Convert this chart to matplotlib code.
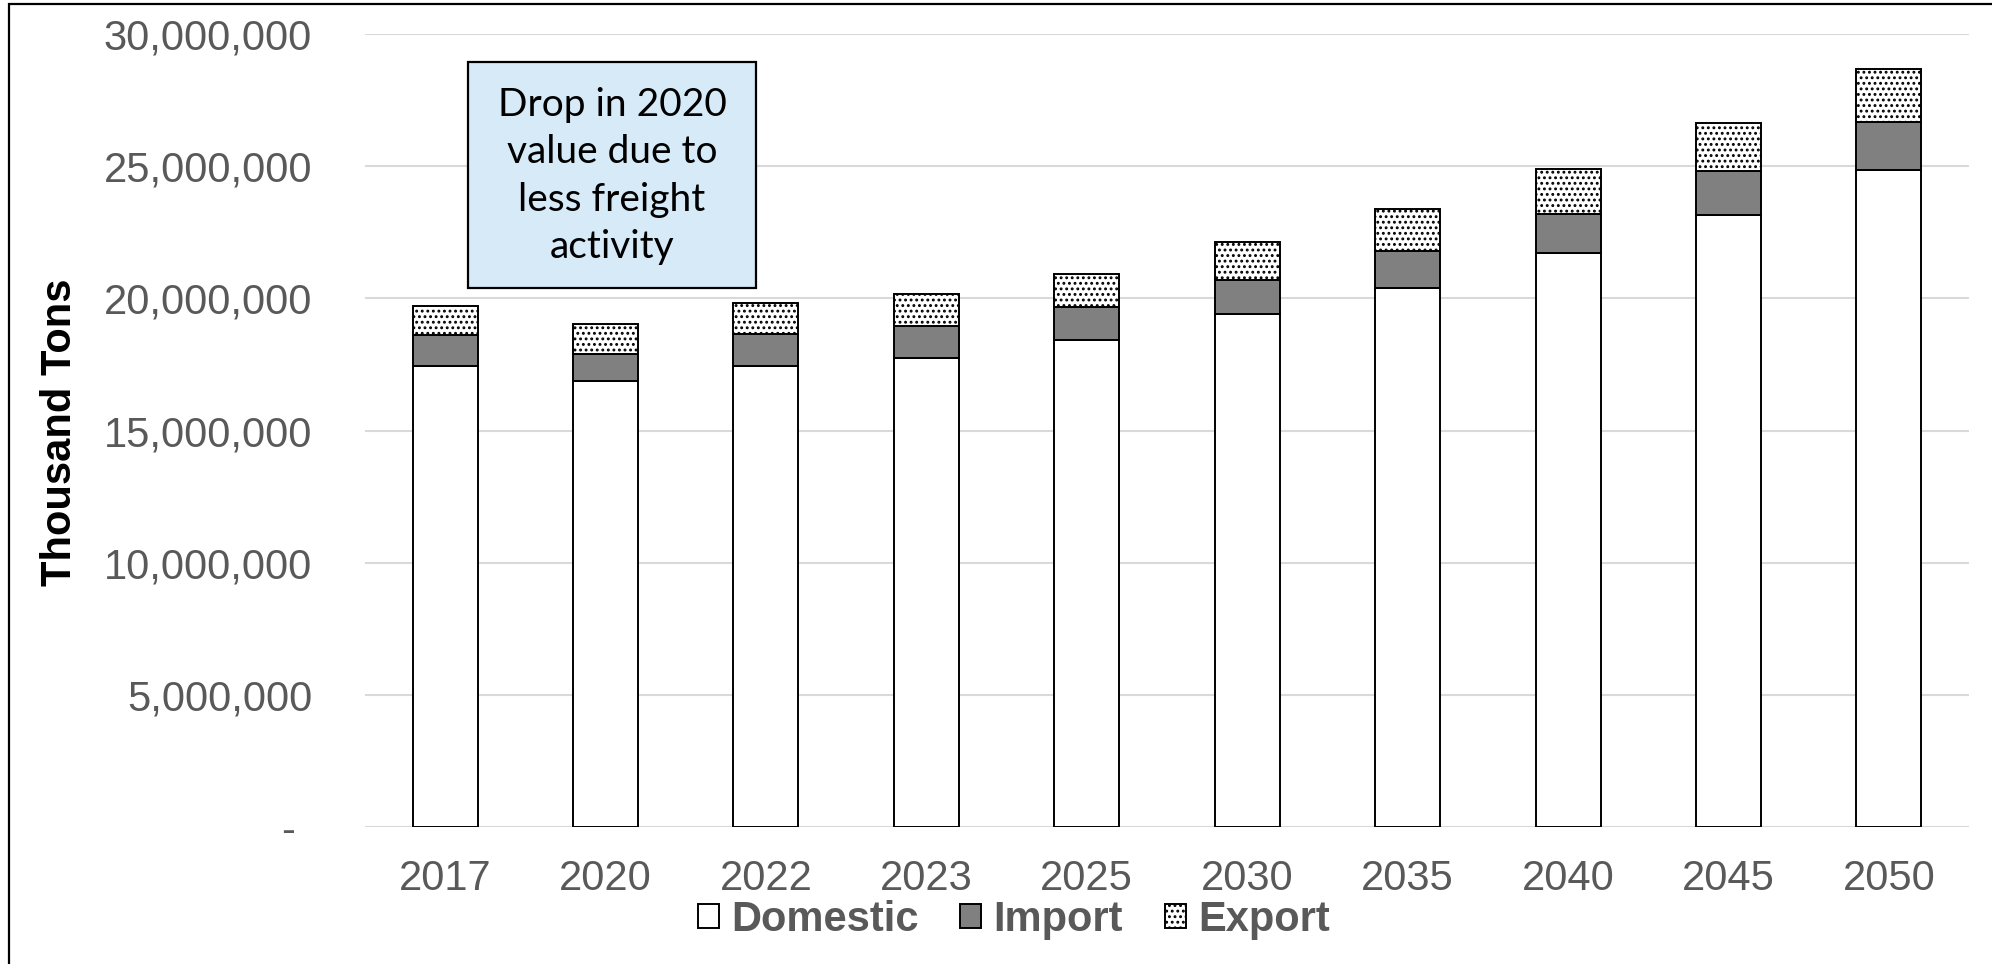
import matplotlib
matplotlib.use("Agg")
import matplotlib.pyplot as plt
import numpy as np
from matplotlib.patches import Patch, Rectangle
from matplotlib.ticker import FuncFormatter

plt.rcParams['font.family'] = ['Liberation Sans', 'DejaVu Sans']
plt.rcParams['hatch.linewidth'] = 1.3

# Freight tonnage by flow type (thousand tons)
years = ['2017', '2020', '2022', '2023', '2025', '2030', '2035', '2040', '2045', '2050']
domestic = [17.45e6, 16.88e6, 17.44e6, 17.75e6, 18.42e6, 19.39e6, 20.41e6, 21.70e6, 23.17e6, 24.87e6]
imports = [1.18e6, 1.01e6, 1.23e6, 1.21e6, 1.24e6, 1.30e6, 1.39e6, 1.51e6, 1.65e6, 1.81e6]
exports = [1.07e6, 1.15e6, 1.16e6, 1.20e6, 1.28e6, 1.45e6, 1.57e6, 1.70e6, 1.83e6, 1.99e6]

grey_txt = '#595959'

fig = plt.figure(figsize=(19.92, 9.64), dpi=100)
ax = fig.add_axes([0.1832, 0.1421, 0.8053, 0.8226])

x = np.arange(len(years))
w = 0.405
dom = np.array(domestic)
imp = np.array(imports)
exp_ = np.array(exports)

ax.bar(x, dom, w, color='white', edgecolor='black', linewidth=1.4, zorder=3)
ax.bar(x, imp, w, bottom=dom, color='#808080', edgecolor='black', linewidth=1.4, zorder=3)
ax.bar(x, exp_, w, bottom=dom + imp, color='white', edgecolor='black', linewidth=1.4,
       hatch='...', zorder=3)

ax.set_xlim(-0.5, len(years) - 0.5)
ax.set_ylim(0, 30e6)
ax.set_yticks(np.arange(0, 30e6 + 1, 5e6))
ax.yaxis.set_major_formatter(FuncFormatter(lambda v, p: '-\u2009\u2009' if v == 0 else f'{v:,.0f}'))
ax.set_xticks(x)
ax.set_xticklabels(years)
ax.tick_params(axis='both', length=0, labelsize=30, colors=grey_txt)
ax.tick_params(axis='y', pad=38)
ax.tick_params(axis='x', pad=23)
ax.grid(axis='y', color='#d9d9d9', linewidth=1.5, zorder=0)
for s in ax.spines.values():
    s.set_visible(False)

fig.text(60 / 1992, 0.552, 'Thousand Tons', rotation=90, ha='center', va='center',
         fontsize=30, fontweight='bold', color='black')

# note box
fig.text(612 / 1992, 1 - 176 / 964, 'Drop in 2020\nvalue due to\nless freight\nactivity',
         ha='center', va='center', fontsize=28, family=['Lato', 'DejaVu Sans'],
         linespacing=1.4, color='black')
fig.patches.append(Rectangle((468 / 1992, 1 - 288 / 964), 288 / 1992, 226 / 964,
                             transform=fig.transFigure, facecolor='#D6EAF8',
                             edgecolor='black', linewidth=1.6, zorder=0))

handles = [Patch(facecolor='white', edgecolor='black', linewidth=1.4),
           Patch(facecolor='#808080', edgecolor='black', linewidth=1.4),
           Patch(facecolor='white', edgecolor='black', linewidth=1.4, hatch='...')]
leg = fig.legend(handles, ['Domestic', 'Import', 'Export'], loc='center',
                 bbox_to_anchor=(0.509, 1 - 920 / 964), ncol=3, frameon=False,
                 prop={'size': 30, 'weight': 'bold'}, handlelength=0.5, handleheight=0.5,
                 handletextpad=0.3, columnspacing=1.0, borderaxespad=0)
for t in leg.get_texts():
    t.set_color(grey_txt)

# outer frame (left and top edges visible)
fig.patches.append(Rectangle((9 / 1992, -0.1), 1.2, 1 - 4 / 964 + 0.1,
                             transform=fig.transFigure, facecolor='none',
                             edgecolor='black', linewidth=1.6))

fig.savefig('out.png', dpi=100)
